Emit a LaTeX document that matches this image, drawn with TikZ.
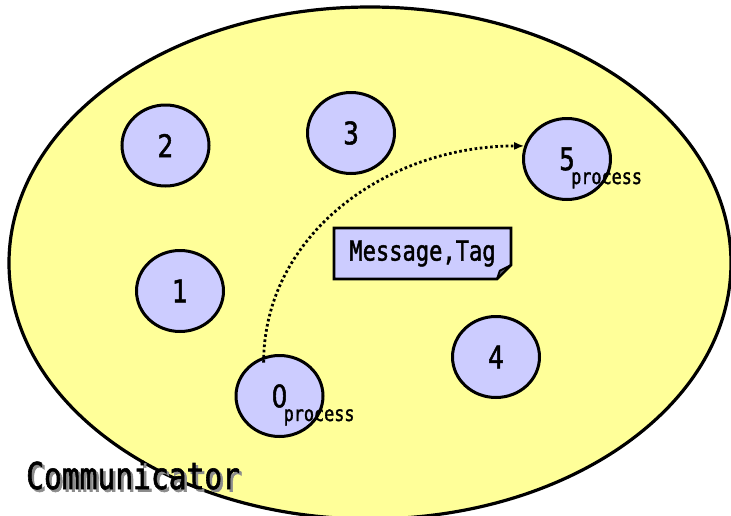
\documentclass[tikz,border=0pt]{standalone}
\usepackage{fontspec}
\usepackage{tikz}
\usetikzlibrary{calc}
\usetikzlibrary{shapes.geometric}
\usetikzlibrary{positioning}
\usetikzlibrary{arrows.meta}

\newfontfamily\gulim[FakeStretch=0.8, FakeBold=1.6]{DejaVu Sans Mono}
\newfontfamily\gulimnum[FakeStretch=0.8, FakeBold=1.6]{DejaVu Sans}
\definecolor{commfill}{HTML}{FFFF99}
\definecolor{procfill}{HTML}{CCCCFF}

\begin{document}
\begin{tikzpicture}[x=1pt,y=-1pt]

		\tikzset{
			proc/.style={
				ellipse, draw, line width=3pt, fill=procfill,
				minimum width=87pt, minimum height=81pt, inner sep=0pt,
				font=\gulimnum\fontsize{31}{31}\selectfont
			},
			ptag/.style={anchor=base west, inner sep=0pt, font=\gulim\fontsize{21}{21}\selectfont},
			msgarrow/.style={
				-{Latex[length=10pt, width=8pt]},
				line width=2.8pt, dash pattern=on 2.6pt off 2.6pt
			}
		}
		
		\useasboundingbox (0,0) rectangle (731,515);
		\clip (0,0) rectangle (731,515);
		
		% --- the communicator ---
		\draw[line width=3.2pt, fill=commfill] (370,263) ellipse [x radius=361, y radius=256];
		
		% processes (rank in the middle)
		\node[proc] (n2) at (165.5,145.5) {2};
		\node[proc] (n3) at (351,133) {3};
		\node[proc] (n5) at (567,159) {5};
		\node[proc] (n1) at (180,291) {1};
		\node[proc] (n4) at (496,357) {4};
		\node[proc] (n0) at (279.5,396) {0};
		
		\node[ptag] (p5) at ([shift={(4,25)}]n5.center) {process};
		\node[ptag] (p0) at ([shift={(4,25)}]n0.center) {process};
		
		% message note with folded corner
		\def\f{14pt}
		\coordinate (mNW) at (334,228);
		\coordinate (mSE) at (511,279);
		\coordinate (mNE) at (mNW -| mSE);
		\coordinate (mSW) at (mNW |- mSE);
		\draw[line width=2.6pt, fill=procfill, line join=miter]
			(mNW) -- (mNE) -- ([yshift=\f]mSE) -- ([xshift=-\f]mSE) -- (mSW) -- cycle;
		\draw[line width=1.8pt, fill=procfill!40!black, line join=round]
			([xshift=-\f]mSE) -- ([xshift=-0.8*\f, yshift=0.6*\f]mSE) -- ([yshift=\f]mSE) -- cycle;
		\node[inner sep=0pt, font=\gulim\fontsize{27.6}{27.6}\selectfont] (msg)
			at ($(mNW)!0.5!(mSE)$) {Message,Tag};
		
		% send from 0 to 5
		\draw[msgarrow, shorten <=-6pt] (n0.112) .. controls +(0,-120) and +(-140,0) .. (n5.163);
		
		% label with its shadow
		\node[anchor=base west, inner sep=0pt, text=black!45, font=\gulim\fontsize{37}{37}\selectfont]
			(commsh) at (28.5,491.5) {Communicator};
		\node[anchor=base west, inner sep=0pt, font=\gulim\fontsize{37}{37}\selectfont]
			(comm) at (26,489) {Communicator};
		
	\end{tikzpicture}
\end{document}
